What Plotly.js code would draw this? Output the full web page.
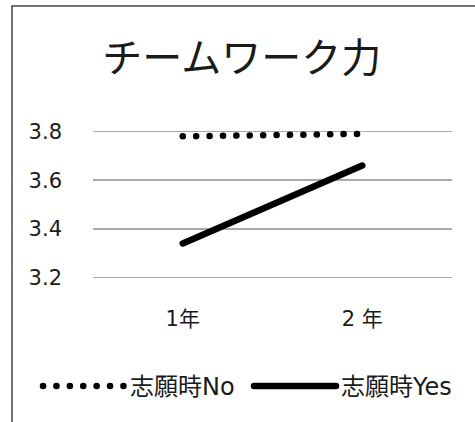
<!DOCTYPE html>
<html>
<head>
<meta charset="utf-8">
<script src="https://cdn.plot.ly/plotly-3.0.1.min.js"></script>
<style>
  html, body { margin: 0; padding: 0; background: #fff; }
  #chart { width: 475px; height: 422px; }
  /* round caps turn the short dashes into round dots */
  .scatterlayer path.js-line, .legendlines path.js-line { stroke-linecap: round; }
</style>
</head>
<body>
<div id="chart"></div>
<script>
// Survey score: teamwork ability, by year, split by applicant status
const years = ['1年', '2 年'];
const seriesNames = ['志願時No', '志願時Yes'];
const valuesNo = [3.78, 3.79];
const valuesYes = [3.34, 3.66];
const yTickValues = [3.2, 3.4, 3.6, 3.8];
const yTickLabels = ['3.2', '3.4', '3.6', '3.8'];
const chartTitle = 'チームワーク力';

const FONT = 'DejaVu Sans, "Noto Sans CJK JP", sans-serif';
const JP_FONT = '"Noto Sans CJK JP", sans-serif';
const TEXT_COLOR = '#1a1a1a';

const traces = [
  {
    x: years, y: valuesNo, name: seriesNames[0],
    type: 'scatter', mode: 'lines',
    line: { color: '#000', width: 6.5, dash: '0.1px,13.3px' },
    hoverinfo: 'skip'
  },
  {
    x: years, y: valuesYes, name: seriesNames[1],
    type: 'scatter', mode: 'lines',
    line: { color: '#000', width: 6.5 },
    hoverinfo: 'skip'
  }
];

const layout = {
  width: 475, height: 422,
  margin: { l: 93, r: 23, t: 128.6, b: 141.9, pad: 0, autoexpand: false },
  paper_bgcolor: '#fff', plot_bgcolor: '#fff',
  font: { family: FONT, size: 21, color: TEXT_COLOR },
  title: {
    text: chartTitle,
    font: { family: JP_FONT, size: 40, color: TEXT_COLOR },
    xref: 'container', yref: 'container',
    x: 0.509, xanchor: 'center', y: 0.8626, yanchor: 'middle'
  },
  xaxis: {
    type: 'category', range: [-0.5, 1.5],
    showgrid: false, zeroline: false, showline: false, ticks: '',
    ticklabelstandoff: 24,
    tickfont: { family: FONT, size: 21, color: TEXT_COLOR }
  },
  yaxis: {
    range: [3.19, 3.81],
    tickmode: 'array', tickvals: yTickValues, ticktext: yTickLabels,
    showgrid: true, gridcolor: '#aaaaaa', gridwidth: 1.5,
    zeroline: false, showline: false, ticks: '',
    ticklabelstandoff: 30,
    tickfont: { family: FONT, size: 21, color: TEXT_COLOR }
  },
  showlegend: true,
  legend: {
    orientation: 'h',
    x: -0.1532, xanchor: 'left',
    y: -0.705, yanchor: 'middle',
    bgcolor: 'rgba(0,0,0,0)', borderwidth: 0,
    itemwidth: 82, entrywidth: 114, entrywidthmode: 'pixels',
    font: { family: FONT, size: 24, color: TEXT_COLOR }
  },
  shapes: [
    // chart frame (left and top edges)
    {
      type: 'path', xref: 'paper', yref: 'paper',
      path: 'M -0.2256,-1.0 L -0.2256,1.8146 L 1.3,1.8146',
      line: { color: '#444', width: 1.5 }
    }
  ]
};

Plotly.newPlot('chart', traces, layout, { staticPlot: true, displayModeBar: false });
</script>
</body>
</html>
